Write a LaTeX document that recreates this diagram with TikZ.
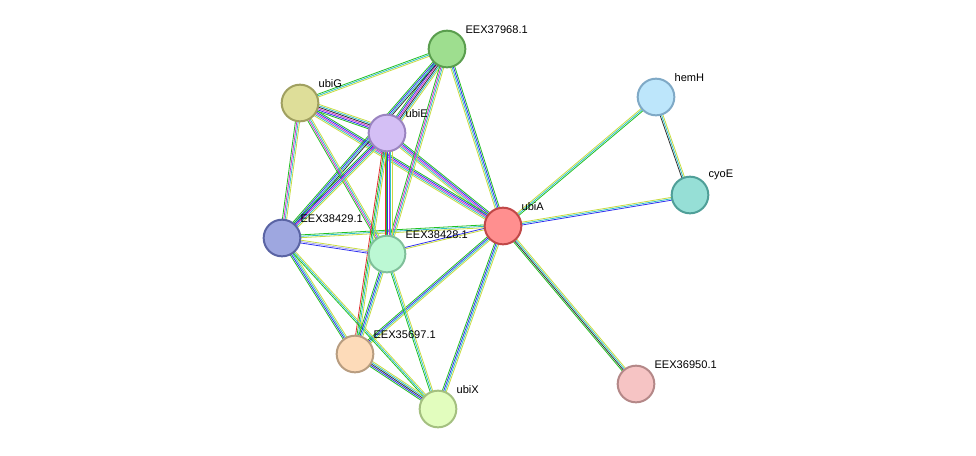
\documentclass[tikz,border=0pt]{standalone}
\usepackage{fontspec}
\setmainfont{Liberation Sans}
\usetikzlibrary{calc}
\definecolor{eg}{HTML}{22C022}
\definecolor{eb}{HTML}{3030F0}
\definecolor{em}{HTML}{D030D0}
\definecolor{ec}{HTML}{30C0C8}
\definecolor{ey}{HTML}{C8DC40}
\definecolor{ek}{HTML}{303030}
\definecolor{er}{HTML}{E03030}
\definecolor{el}{HTML}{A0A0F0}
\newcommand\sedge[3]{%
  \foreach \c [count=\i] in {#3} {
    \path let \p1=($(#2)-(#1)$), \n1={atan2(\y1,\x1)+90} in
      [draw=\c, line width=0.6pt] ($(#1)+(\n1:{(\i-2.5)*1.05pt})$) -- ($(#2)+(\n1:{(\i-2.5)*1.05pt})$);
  }}
\newcommand\protcol[3]{\definecolor{f#1}{HTML}{#2}\definecolor{d#1}{HTML}{#3}}
\protcol{37968}{9EDE8F}{5A9E4E}
\protcol{ubiG}{DEDE99}{A0A060}
\protcol{ubiE}{D4BFF5}{9A84C0}
\protcol{hemH}{BDE6FB}{7FA9C6}
\protcol{cyoE}{96DFD6}{4F9F98}
\protcol{ubiA}{FF8F8F}{C04848}
\protcol{38429}{9EA7E0}{5A64A4}
\protcol{38428}{BCF8D4}{80C09A}
\protcol{35697}{FDDBB9}{B89D80}
\protcol{ubiX}{E2FDBE}{A4C080}
\protcol{36950}{F6C4C4}{B48888}
\tikzset{
  prot/.style={circle, minimum size=27.5pt, line width=1.5pt, inner sep=0pt, fill=f#1, draw=d#1},
  lbl/.style={font=\fontsize{8.3}{9}\selectfont, anchor=south west, inner sep=1pt}
}
\begin{document}
\begin{tikzpicture}[x=0.75pt,y=-0.75pt]
\useasboundingbox (0,0) rectangle (976,455);
% positions
\coordinate (p37968) at (447,49);
\coordinate (pubiG) at (300,103);
\coordinate (pubiE) at (387,133);
\coordinate (phemH) at (656,97);
\coordinate (pcyoE) at (690,195);
\coordinate (pubiA) at (503,226);
\coordinate (p38429) at (282,238);
\coordinate (p38428) at (387,254);
\coordinate (p35697) at (355,354);
\coordinate (pubiX) at (438,409);
\coordinate (p36950) at (636,384);
% edges
\sedge{pubiA}{p37968}{eg,eb,ec,ey}
\sedge{pubiA}{phemH}{eg,ec,ey}
\sedge{pubiA}{pcyoE}{eb,ec,ey}
\sedge{phemH}{pcyoE}{ek,ec,ey}
\sedge{pubiA}{p36950}{eg,ek,ec,ey}
\sedge{pubiA}{pubiX}{eg,eb,ec,ey}
\sedge{pubiA}{p35697}{eg,eb,ec,ey}
\sedge{pubiA}{p38428}{eb,ey}
\sedge{pubiA}{p38429}{eg,ec,ey}
\sedge{pubiA}{pubiE}{eg,eb,em,ec,ey}
\sedge{pubiA}{pubiG}{eg,eb,em,ec,ey}
\sedge{p37968}{pubiE}{eg,eb,em,ek,ec,ey}
\sedge{p37968}{pubiG}{eg,ec,ey}
\sedge{p37968}{p38428}{eg,em,ec,ey}
\sedge{p37968}{p38429}{eg,eb,ec,ek}
\sedge{pubiG}{pubiE}{eg,eb,em,ek,ec,ey}
\sedge{pubiG}{p38429}{eg,em,ec,ey}
\sedge{pubiG}{p38428}{eg,em,ec,ey}
\sedge{pubiE}{p38429}{eg,eb,em,ec,ey}
\sedge{pubiE}{p38428}{er,eg,eb,em,ec,ey}
\sedge{pubiE}{p35697}{er,eg,ec,ey}
\sedge{p38429}{p38428}{eb,el,ey}
\sedge{p38429}{p35697}{eg,eb,ec,ey}
\sedge{p38429}{pubiX}{eg,ec,ey}
\sedge{p38428}{p35697}{eg,eb,ec,ey}
\sedge{p38428}{pubiX}{eg,ec,ey}
\sedge{p35697}{pubiX}{eg,eb,ek,ec,ey}
% proteins and labels
\foreach \n/\t in {37968/EEX37968.1, ubiG/ubiG, ubiE/ubiE, hemH/hemH, cyoE/cyoE,
  ubiA/ubiA, 38429/EEX38429.1, 38428/EEX38428.1, 35697/EEX35697.1, ubiX/ubiX, 36950/EEX36950.1} {
  \node[prot=\n] (n\n) at (p\n) {};
  \node[lbl] (l\n) at ($(n\n)+(17,-14)$) {\t};
}
\end{tikzpicture}
\end{document}
